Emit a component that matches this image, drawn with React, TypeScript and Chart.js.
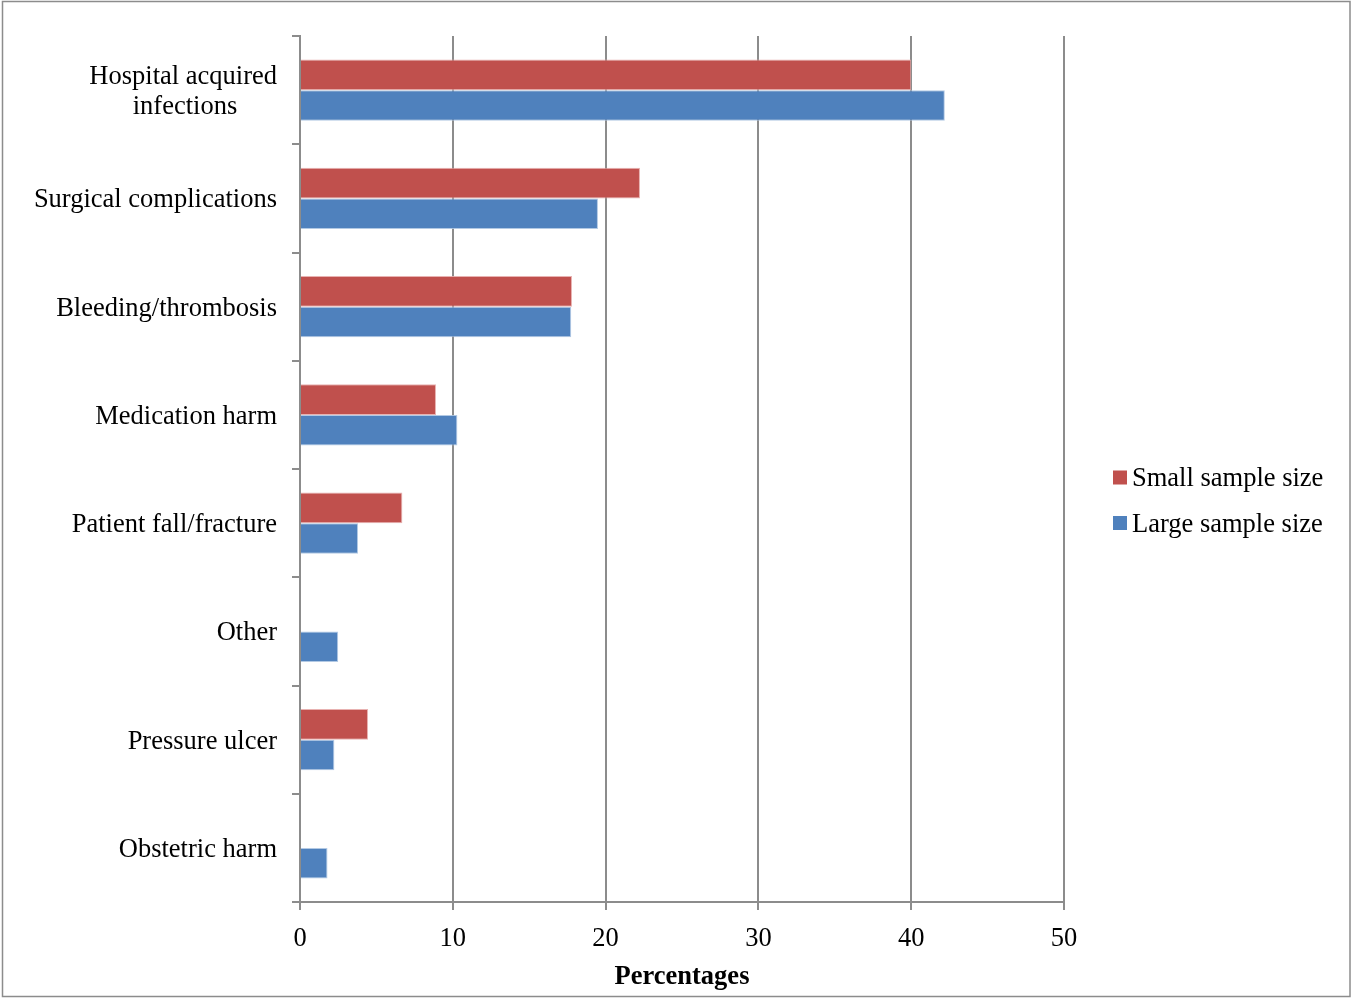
import React, { useEffect, useRef } from "react";
import { Chart, registerables } from "chart.js";

Chart.register(...registerables);

const categories: (string | string[])[] = [
  ["Hospital acquired", "infections      "],
  "Surgical complications",
  "Bleeding/thrombosis",
  "Medication harm",
  "Patient fall/fracture",
  "Other",
  "Pressure ulcer",
  "Obstetric harm",
];
const smallSample = [40.0, 22.25, 17.8, 8.9, 6.7, 0, 4.45, 0];
const largeSample = [42.2, 19.5, 17.75, 10.3, 3.8, 2.5, 2.25, 1.8];
const seriesNames = ["Small sample size", "Large sample size"];
const xTicks = [0, 10, 20, 30, 40, 50];
const axisTitle = "Percentages";

const RED = "#C0504D";
const BLUE = "#4F81BD";
const GRID = "#8c8c8c";
const FONT = "'Liberation Serif', 'Times New Roman', serif";
const FS = 26.5;

const framePlugin = {
  id: "frame",
  beforeDraw(chart: any) {
    const ctx = chart.ctx;
    ctx.save();
    ctx.fillStyle = "#ffffff";
    ctx.fillRect(0, 0, chart.width, chart.height);
    ctx.strokeStyle = "#8c8c8c";
    ctx.lineWidth = 1.5;
    ctx.strokeRect(2.5, 1.5, chart.width - 4.5, chart.height - 3);
    ctx.restore();
  },
};

const legendPlugin = {
  id: "customLegend",
  afterDraw(chart: any) {
    const ctx = chart.ctx;
    ctx.save();
    ctx.font = `${FS}px ${FONT}`;
    ctx.textBaseline = "middle";
    ctx.textAlign = "left";
    const x0 = 1113;
    const ys = [477.5, 523];
    chart.data.datasets.forEach((ds: any, i: number) => {
      ctx.fillStyle = ds.backgroundColor;
      ctx.fillRect(x0, ys[i] - 7, 14, 14);
      ctx.fillStyle = "#000";
      ctx.fillText(ds.label, x0 + 19, ys[i] + 2);
    });
    ctx.restore();
  },
};

export default function App() {
  const ref = useRef<HTMLCanvasElement | null>(null);
  useEffect(() => {
    if (!ref.current) return;
    const chart = new Chart(ref.current, {
      type: "bar",
      data: {
        labels: categories,
        datasets: [
          {
            label: seriesNames[0],
            data: smallSample,
            backgroundColor: RED,
            borderColor: "rgba(230,170,168,0.9)",
            borderWidth: 1,
            categoryPercentage: 0.566,
            barPercentage: 1,
          },
          {
            label: seriesNames[1],
            data: largeSample,
            backgroundColor: BLUE,
            borderColor: "rgba(170,195,225,0.9)",
            borderWidth: 1,
            categoryPercentage: 0.566,
            barPercentage: 1,
          },
        ],
      },
      options: {
        indexAxis: "y",
        animation: false,
        responsive: true,
        maintainAspectRatio: false,
        devicePixelRatio: 1,
        layout: { padding: { top: 36, right: 288, bottom: 0, left: 0 } },
        plugins: {
          legend: { display: false },
          tooltip: { enabled: false },
        },
        scales: {
          x: {
            type: "linear",
            min: 0,
            max: 50,
            afterBuildTicks: (scale: any) => {
              scale.ticks = xTicks.map((v) => ({ value: v }));
            },
            afterFit: (scale: any) => {
              scale.height = 96;
            },
            grid: {
              color: GRID,
              lineWidth: 2,
              tickLength: 8,
              drawTicks: true,
            },
            border: { display: true, color: GRID, width: 2 },
            ticks: {
              color: "#000",
              font: { family: FONT, size: FS },
              padding: 13,
              maxRotation: 0,
            },
            title: {
              display: true,
              text: axisTitle,
              color: "#000",
              font: { family: FONT, size: FS, weight: "bold" },
              padding: { top: 2, bottom: 5 },
            },
          },
          y: {
            afterFit: (scale: any) => {
              scale.width = 300;
            },
            grid: {
              display: true,
              drawOnChartArea: false,
              drawTicks: true,
              tickLength: 8,
              color: GRID,
              lineWidth: 2,
              offset: true,
            },
            border: { display: true, color: GRID, width: 2 },
            ticks: {
              color: "#000",
              font: { family: FONT, size: FS, lineHeight: 1.13 },
              padding: 15,
              labelOffset: 2,
              autoSkip: false,
            },
          },
        },
      },
      plugins: [framePlugin, legendPlugin],
    } as any);
    return () => chart.destroy();
  }, []);
  return (
    <div style={{ position: "absolute", left: 0, top: 0, width: 1352, height: 998 }}>
      <canvas ref={ref} width={1352} height={998} />
    </div>
  );
}
